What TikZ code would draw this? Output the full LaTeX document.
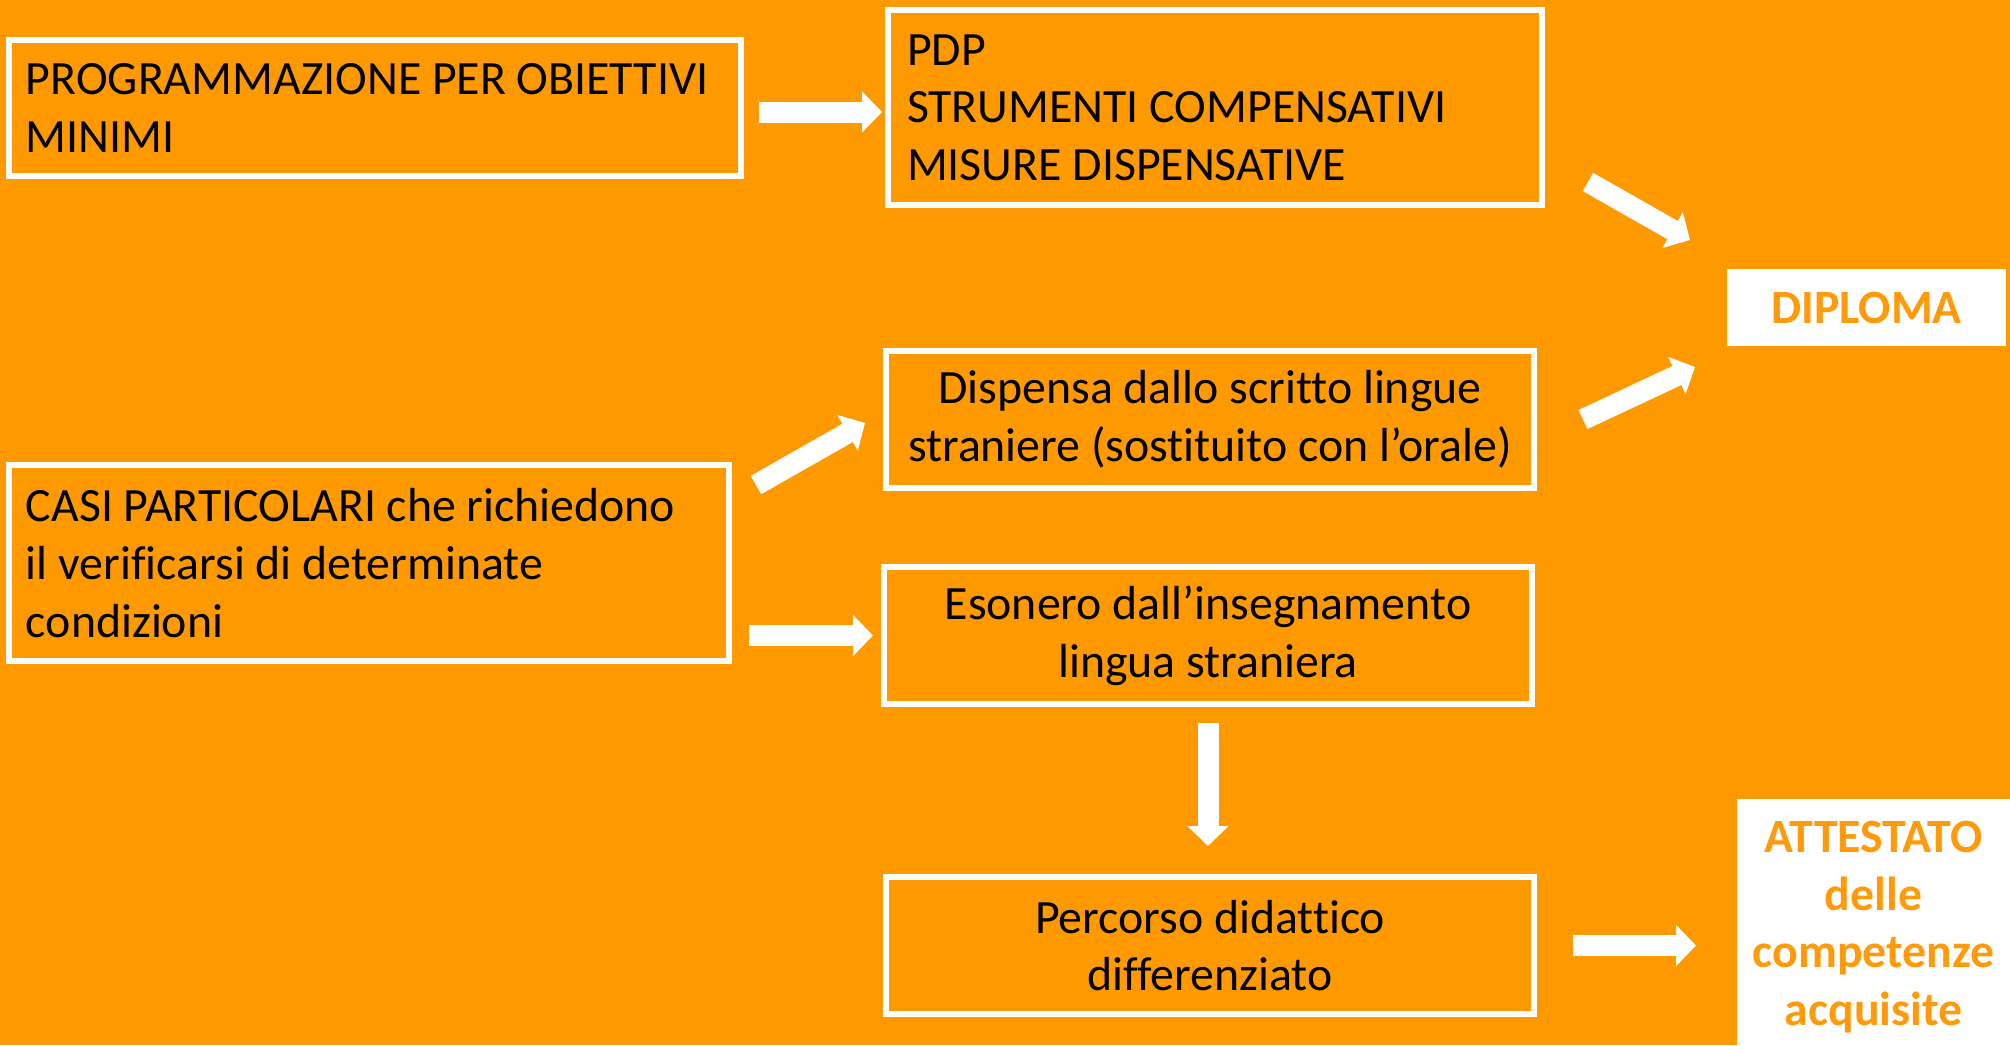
\documentclass[tikz,border=0pt]{standalone}
\usepackage{fontspec}
\setmainfont{Carlito}[Ligatures=NoCommon]
\usetikzlibrary{arrows.meta}
\definecolor{orangebg}{HTML}{FF9900}
\definecolor{orangetxt}{HTML}{FF9A0A}

\begin{document}
\begin{tikzpicture}[
  font=\fontsize{13.6pt}{16.4pt}\selectfont,
  box/.style={draw=white, line width=0.06cm, anchor=north west, outer sep=0pt,
    inner xsep=0.17cm, inner ysep=0pt},
  leftbox/.style={box, align=flush left},
  midbox/.style={box, align=flush center, text width=6.14cm, minimum height=1.37cm},
  goalbox/.style={fill=white, anchor=north west, outer sep=0pt, align=flush center,
    text=orangetxt, font=\fontsize{13.6pt}{16.4pt}\selectfont\bfseries},
  blockarrow/.style={white, line width=0.21cm, -{Triangle[length=0.2cm, width=0.4cm]}}
]
  \useasboundingbox (0,0) rectangle (20.1,-10.45);
  \fill[orangebg] (0,0) rectangle (20.1,-10.45);

  \node[leftbox, text width=6.98cm, minimum height=1.36cm] (prog) at (0.09,-0.40)
    {PROGRAMMAZIONE PER OBIETTIVI\\MINIMI};
  \node[leftbox, text width=6.16cm, minimum height=1.95cm, inner xsep=0.19cm] (pdp) at (8.88,-0.10)
    {PDP\\STRUMENTI COMPENSATIVI\\MISURE DISPENSATIVE};
  \node[leftbox, text width=6.86cm, minimum height=1.96cm] (casi) at (0.09,-4.65)
    {CASI PARTICOLARI che richiedono\\il verificarsi di determinate\\condizioni};
  \node[midbox] (dispensa) at (8.86,-3.51)
    {Dispensa dallo scritto lingue\\straniere (sostituito con l’orale)};
  \node[midbox] (esonero) at (8.84,-5.67)
    {Esonero dall’insegnamento\\lingua straniera};
  \node[midbox] (percorso) at (8.86,-8.77)
    {Percorso didattico\\differenziato};
  \node[goalbox, minimum width=2.79cm, minimum height=0.77cm] (diploma) at (17.27,-2.69)
    {DIPLOMA};
  \node[goalbox, minimum width=2.73cm, minimum height=2.56cm] (attestato) at (17.37,-7.99)
    {ATTESTATO\\delle\\competenze\\acquisite};

  \draw[blockarrow] ([shift={(0.18,-0.04)}]prog.east) -- ([shift={(-0.06,-0.04)}]prog.east -| pdp.west);
  \draw[blockarrow] ([shift={(0.46,-0.745)}]pdp.east) -- ([shift={(-0.37,0.675)}]diploma.west);
  \draw[blockarrow] ([xshift=0.49cm]dispensa.east) -- ([shift={(-0.32,-0.595)}]diploma.west);
  \draw[blockarrow] ([shift={(0.27,0.78)}]casi.east) -- ([shift={(-0.21,-0.035)}]dispensa.west);
  \draw[blockarrow] ([xshift=0.20cm]esonero.west -| casi.east) -- ([xshift=-0.11cm]esonero.west);
  \draw[blockarrow] ([yshift=-0.19cm]esonero.south) -- ([yshift=0.31cm]esonero.south |- percorso.north);
  \draw[blockarrow] ([xshift=0.39cm]percorso.east) -- ([xshift=-0.41cm]percorso.east -| attestato.west);
\end{tikzpicture}
\end{document}
